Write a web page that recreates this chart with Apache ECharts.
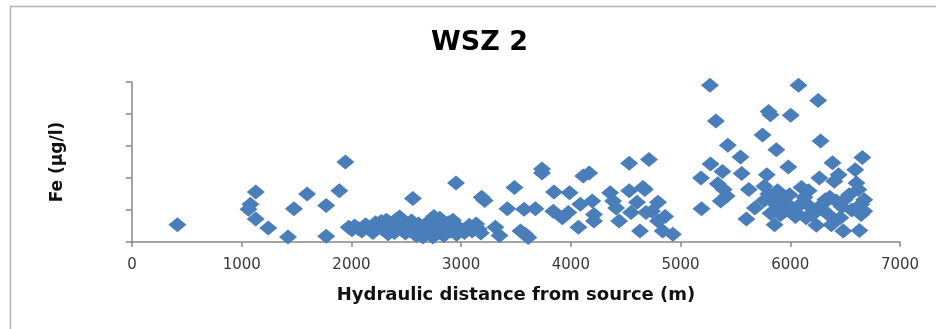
<!DOCTYPE html>
<html>
<head>
<meta charset="utf-8">
<script src="https://cdn.jsdelivr.net/npm/echarts@6/dist/echarts.min.js"></script>
<style>
  html, body { margin: 0; padding: 0; background: #fff; }
  #chart { width: 936px; height: 329px; }
</style>
</head>
<body>
<div id="chart"></div>
<script>
// hydraulic distance (m) and Fe (µg/l)
const title = "WSZ 2";
const xName = "Hydraulic distance from source (m)";
const yName = "Fe (µg/l)";

const sparsePoints = [
  [414, 27], [1062, 51], [1079, 59], [1128, 78], [1128, 36], [1242, 22], [1422, 8],
  [1476, 52], [1596, 75], [1770, 57], [1770, 9], [1890, 80], [1945, 125],
  [2560, 68], [2953, 92], [3187, 70], [3214, 65], [3312, 23], [3350, 10], [3421, 52],
  [3486, 85], [3541, 17], [3584, 12], [3612, 7], [3574, 51], [3677, 52], [3737, 114],
  [3737, 108], [3846, 78], [3840, 48], [3922, 38], [3988, 77], [3977, 46], [4069, 23],
  [4086, 59], [4113, 103], [4167, 108], [4195, 64], [4211, 33], [4211, 43], [4358, 77],
  [4385, 64], [4413, 53], [4440, 33], [4532, 123], [4532, 80], [4549, 46], [4603, 62],
  [4630, 17], [4657, 85], [4674, 82], [4685, 46], [4712, 129], [4739, 48], [4794, 62],
  [4794, 33], [4837, 17], [4859, 40], [4930, 12]
];

const clusterPoints = [
  [1975, 23], [2005, 19], [2030, 25], [2060, 21], [2095, 17], [2130, 27], [2165, 22],
  [2195, 15], [2220, 30], [2245, 25], [2272, 32], [2290, 19], [2319, 34], [2335, 13],
  [2350, 30], [2372, 22], [2392, 15], [2409, 35], [2439, 39], [2452, 20], [2470, 29],
  [2492, 14], [2512, 25], [2535, 18], [2548, 33], [2575, 23], [2592, 10], [2612, 28],
  [2632, 19], [2652, 8], [2672, 25], [2690, 15], [2712, 33], [2732, 21], [2742, 8],
  [2752, 40], [2773, 24], [2790, 14], [2805, 37], [2822, 28], [2842, 10], [2862, 22],
  [2885, 30], [2905, 17], [2925, 34], [2958, 12], [2990, 21], [3030, 15], [3046, 18],
  [3075, 26], [3100, 17], [3137, 28], [3160, 20], [3180, 14]
];

const eastPoints = [
  [5186, 100], [5191, 52], [5268, 245], [5273, 122], [5322, 189], [5339, 91], [5366, 64],
  [5382, 110], [5393, 82], [5420, 72], [5431, 151], [5546, 133], [5557, 107], [5600, 36],
  [5622, 82], [5677, 53], [5747, 167], [5764, 87], [5786, 105], [5802, 204], [5819, 199],
  [5829, 64], [5857, 27], [5873, 144], [5884, 80], [5911, 43], [5938, 62], [5982, 117],
  [5993, 74], [6004, 198], [6020, 53], [6047, 40], [6075, 245], [6102, 85], [6129, 70],
  [6145, 38], [6167, 80], [6238, 26], [6254, 221], [6265, 100], [6276, 158], [6292, 59],
  [6319, 66], [6347, 43], [6374, 27], [6385, 124], [6401, 95], [6418, 64], [6440, 105],
  [6456, 38], [6483, 17], [6494, 66], [6537, 74], [6592, 113], [6603, 92], [6620, 82],
  [6630, 18], [6646, 59], [6657, 132], [6674, 66], [6674, 48], [6646, 43],
  [5760, 65], [5800, 75], [5820, 45], [5870, 50], [5900, 68], [5950, 48], [6000, 55],
  [6060, 45], [6100, 60], [6180, 55], [6200, 42], [6300, 50],
  [6360, 70], [6470, 55], [6560, 50]
];

const allPoints = sparsePoints.concat(clusterPoints, eastPoints);

const chart = echarts.init(document.getElementById("chart"), null, { renderer: "canvas" });
chart.setOption({
  backgroundColor: "#ffffff",
  animation: false,
  graphic: [
    {
      type: "rect",
      left: 8, top: 4,
      shape: { width: 940, height: 340 },
      style: { fill: "none", stroke: "#b4b4b4", lineWidth: 1.5 },
      silent: true
    }
  ],
  title: {
    text: title,
    left: 426,
    top: 24,
    textStyle: { fontFamily: "DejaVu Sans", fontWeight: "bold", fontSize: 27, color: "#000" }
  },
  grid: { left: 132, right: 36, top: 82, bottom: 87 },
  xAxis: {
    type: "value",
    min: 0, max: 7000, interval: 1000,
    name: xName,
    nameLocation: "middle",
    nameGap: 44,
    nameTextStyle: { fontFamily: "DejaVu Sans", fontWeight: "bold", fontSize: 18, color: "#111" },
    axisLine: { lineStyle: { color: "#888", width: 1.5 } },
    axisTick: { show: true, length: 5, lineStyle: { color: "#888", width: 1.5 } },
    axisLabel: {
      fontFamily: "DejaVu Sans", fontSize: 15, color: "#3a3a3a", margin: 16,
      formatter: (v) => String(v)
    },
    splitLine: { show: false }
  },
  yAxis: {
    type: "value",
    min: 0, max: 250, interval: 50,
    name: yName,
    nameLocation: "middle",
    nameGap: 66,
    nameRotate: 90,
    nameTextStyle: { fontFamily: "DejaVu Sans", fontWeight: "bold", fontSize: 17, color: "#111" },
    axisLine: { show: true, lineStyle: { color: "#888", width: 1.5 } },
    axisTick: { show: true, length: 6, lineStyle: { color: "#888", width: 1.5 } },
    axisLabel: { show: false },
    splitLine: { show: false }
  },
  series: [
    {
      type: "scatter",
      data: allPoints,
      symbol: "diamond",
      symbolSize: [18, 15],
      itemStyle: { color: "#4a7ebb", opacity: 1 }
    }
  ]
});
</script>
</body>
</html>
